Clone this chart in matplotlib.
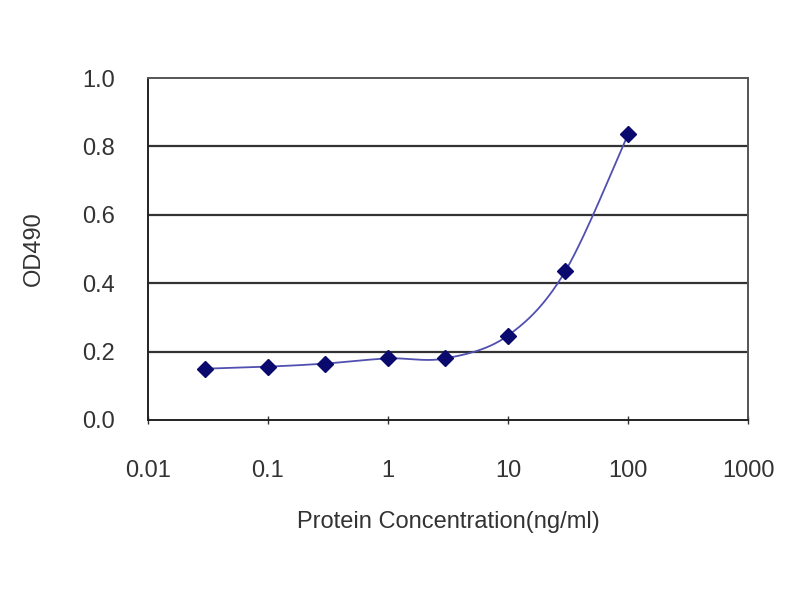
import numpy as np
import matplotlib
matplotlib.use("Agg")
import matplotlib.pyplot as plt
from matplotlib.ticker import FixedLocator, FixedFormatter

# Données
conc = [0.03, 0.1, 0.3, 1, 3, 10, 30, 100]
od490 = [0.150, 0.156, 0.165, 0.180, 0.180, 0.247, 0.435, 0.835]
xticks = [0.01, 0.1, 1, 10, 100, 1000]
xticklabels = ["0.01", "0.1", "1", "10", "100", "1000"]
yticks = [0.0, 0.2, 0.4, 0.6, 0.8, 1.0]
yticklabels = ["0.0", "0.2", "0.4", "0.6", "0.8", "1.0"]

plt.rcParams["font.family"] = ["Liberation Sans", "DejaVu Sans"]


def lissage(x, y, n=30):
    # courbe lissée type Excel (Catmull-Rom) en log(x)
    lx = np.log10(np.asarray(x, dtype=float))
    y = np.asarray(y, dtype=float)
    px = np.concatenate([[lx[0]], lx, [lx[-1]]])
    py = np.concatenate([[y[0]], y, [y[-1]]])
    xs, ys = [], []
    t = np.linspace(0, 1, n)
    for i in range(1, len(px) - 2):
        p0, p1, p2, p3 = px[i - 1], px[i], px[i + 1], px[i + 2]
        q0, q1, q2, q3 = py[i - 1], py[i], py[i + 1], py[i + 2]
        bx = [p1, p1 + (p2 - p0) / 6, p2 - (p3 - p1) / 6, p2]
        by = [q1, q1 + (q2 - q0) / 6, q2 - (q3 - q1) / 6, q2]
        cx = ((1 - t) ** 3 * bx[0] + 3 * (1 - t) ** 2 * t * bx[1]
              + 3 * (1 - t) * t ** 2 * bx[2] + t ** 3 * bx[3])
        cy = ((1 - t) ** 3 * by[0] + 3 * (1 - t) ** 2 * t * by[1]
              + 3 * (1 - t) * t ** 2 * by[2] + t ** 3 * by[3])
        xs.extend(cx)
        ys.extend(cy)
    return 10 ** np.array(xs), np.array(ys)


fig = plt.figure(figsize=(8, 6), dpi=100)
ax = fig.add_axes([0.185, 0.30, 0.75, 0.57])

for v in yticks[1:-1]:
    ax.axhline(v, color="#333333", lw=1.6, zorder=1)

xc, yc = lissage(conc, od490)
ax.plot(xc, yc, color="#5050b0", lw=1.3, zorder=2)
ax.plot(conc, od490, ls="none", marker="D", ms=8, color="#0a0a6e", zorder=3)

ax.set_xscale("log")
ax.set_xlim(0.01, 1000)
ax.set_ylim(0, 1.0)
ax.xaxis.set_major_locator(FixedLocator(xticks))
ax.xaxis.set_major_formatter(FixedFormatter(xticklabels))
ax.xaxis.set_minor_locator(FixedLocator([]))
ax.set_yticks(yticks)
ax.set_yticklabels(yticklabels)
ax.tick_params(axis="both", labelsize=17, colors="#333333", width=1)
ax.tick_params(axis="y", length=0, pad=24)
ax.tick_params(axis="x", direction="inout", length=6, pad=26)

for side in ["left", "bottom"]:
    ax.spines[side].set_color("#222222")
    ax.spines[side].set_linewidth(1.4)
for side in ["top", "right"]:
    ax.spines[side].set_color("#555555")
    ax.spines[side].set_linewidth(1.4)

ax.set_xlabel("Protein Concentration(ng/ml)", fontsize=17, color="#333333")
ax.set_ylabel("OD490", fontsize=17, color="#333333")
ax.xaxis.label.set_va("center")
ax.yaxis.label.set_va("center")
ax.xaxis.set_label_coords(0.5, -0.298)
ax.yaxis.set_label_coords(-0.19, 0.5)

fig.savefig("out.png", dpi=100)
